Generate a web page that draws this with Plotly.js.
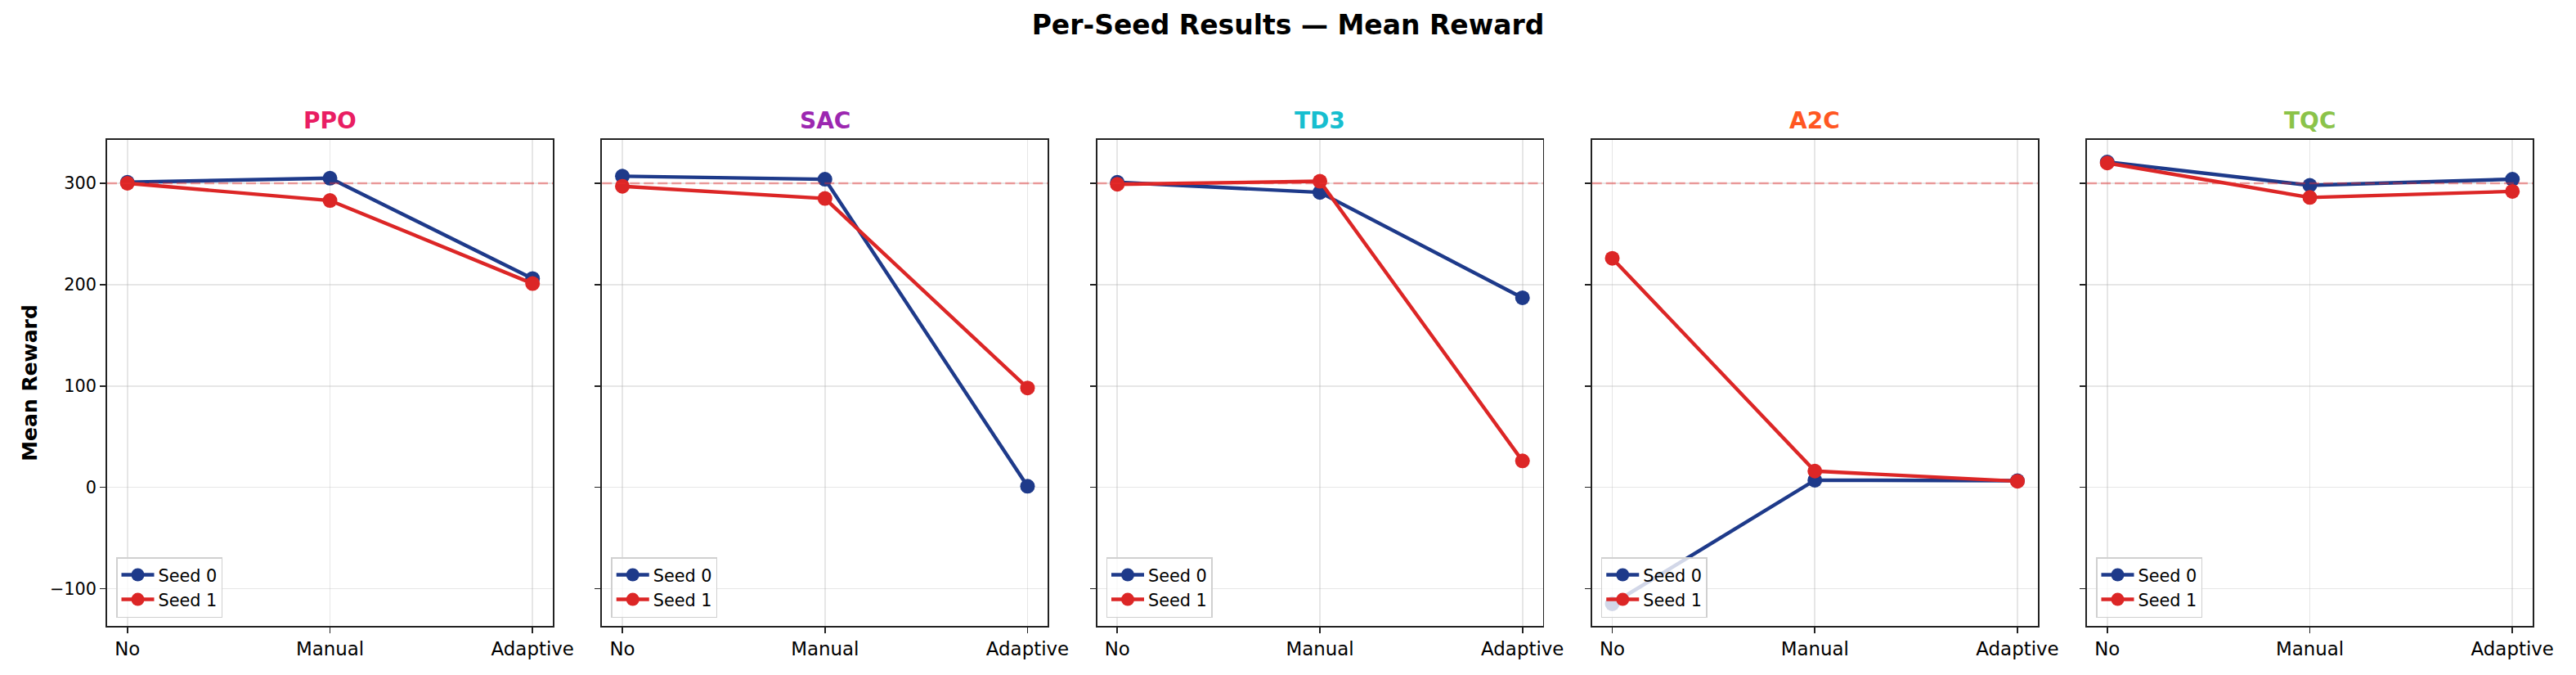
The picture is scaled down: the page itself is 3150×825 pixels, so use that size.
<!DOCTYPE html>
<html>
<head>
<meta charset="utf-8">
<script src="https://cdn.plot.ly/plotly-3.0.1.min.js"></script>
<style>
  html, body { margin: 0; padding: 0; background: #fff; }
  #chart { width: 3150px; height: 825px; }
</style>
</head>
<body>
<div id="chart"></div>
<script>
// Per-seed mean reward.
const categories = ['No', 'Manual', 'Adaptive'];
const algos = ['PPO', 'SAC', 'TD3', 'A2C', 'TQC'];
const algoColors = ['#E91E63', '#9C27B0', '#17BECF', '#FF5722', '#8BC34A'];
const seedNames = ['Seed 0', 'Seed 1'];
const seedColors = ['#1E3A8A', '#DC2626'];

const ppoSeed0 = [301, 305, 206];
const ppoSeed1 = [300, 283, 201];
const sacSeed0 = [307, 304, 1];
const sacSeed1 = [297, 285, 98];
const td3Seed0 = [301, 291, 187];
const td3Seed1 = [299, 302, 26];
const a2cSeed0 = [-115, 7, 6.5];
const a2cSeed1 = [226, 16, 6];
const tqcSeed0 = [321, 298, 304];
const tqcSeed1 = [320, 286, 292];

const TARGET_REWARD = 300;

const seedValues = [
  [ppoSeed0, ppoSeed1],
  [sacSeed0, sacSeed1],
  [td3Seed0, td3Seed1],
  [a2cSeed0, a2cSeed1],
  [tqcSeed0, tqcSeed1]
];

// figure geometry (px, 3150x825 canvas)
const W = 3150, H = 825;
const FONT = 'DejaVu Sans, Liberation Sans, sans-serif';
const PLOT_LEFT = 131, PLOT_W = 545, PLOT_STRIDE = 605.25;
const PLOT_TOP = 171, PLOT_BOTTOM = 765;

// shared y range, matplotlib-style 5% padding
const allVals = seedValues.flat(2);
const yMin = Math.min(...allVals), yMax = Math.max(...allVals);
const pad = (yMax - yMin) * 0.05;
const yRange = [yMin - pad, yMax + pad];

const traces = [];
const layout = {
  width: W, height: H,
  paper_bgcolor: '#fff', plot_bgcolor: '#fff',
  font: { family: FONT, color: '#000', size: 21 },
  margin: { l: 0, r: 0, t: 0, b: 0 },
  showlegend: true,
  title: {
    text: 'Per-Seed Results — Mean Reward',
    font: { family: FONT, size: 33, weight: 'bold', color: '#000' },
    x: 0.5, xanchor: 'center', y: 1 - 30 / H, yanchor: 'middle'
  },
  annotations: [],
  shapes: []
};

algos.forEach((algo, i) => {
  const n = i === 0 ? '' : String(i + 1);
  const x0 = (PLOT_LEFT + i * PLOT_STRIDE) / W;
  const x1 = (PLOT_LEFT + i * PLOT_STRIDE + PLOT_W) / W;
  const legendId = 'legend' + n;

  seedValues[i].forEach((vals, s) => {
    traces.push({
      type: 'scatter', mode: 'lines+markers',
      x: categories, y: vals,
      xaxis: 'x' + n, yaxis: 'y' + n,
      name: seedNames[s],
      legend: legendId,
      line: { color: seedColors[s], width: 4.4 },
      marker: { color: seedColors[s], size: 18 },
      hoverinfo: 'skip'
    });
  });

  layout['xaxis' + n] = {
    domain: [x0, x1], anchor: 'y' + n,
    type: 'category', range: [-0.1, 2.1],
    showline: true, mirror: true, linecolor: '#222', linewidth: 1.8,
    ticks: 'outside', ticklen: 7, tickwidth: 1.7, tickcolor: '#222',
    showgrid: true, gridcolor: 'rgba(176,176,176,0.32)', gridwidth: 1.7,
    zeroline: false,
    tickfont: { family: FONT, size: 22.9, color: '#000' }
  };
  layout['yaxis' + n] = {
    domain: [1 - PLOT_BOTTOM / H, 1 - PLOT_TOP / H], anchor: 'x' + n,
    range: yRange, tick0: 0, dtick: 100,
    showticklabels: i === 0,
    showline: true, mirror: true, linecolor: '#222', linewidth: 1.8,
    ticks: 'outside', ticklen: 7, tickwidth: 1.7, tickcolor: '#222',
    showgrid: true, gridcolor: 'rgba(176,176,176,0.32)', gridwidth: 1.7,
    zeroline: false,
    tickfont: { family: FONT, size: 20.8, color: '#000' }
  };
  if (i === 0) {
    layout.yaxis.title = {
      text: 'Mean Reward', standoff: 8,
      font: { family: FONT, size: 25, weight: 'bold', color: '#000' }
    };
  }

  layout[legendId] = {
    x: x0 + 11 / W, xanchor: 'left',
    y: 1 - (PLOT_BOTTOM - 10) / H, yanchor: 'bottom',
    bgcolor: 'rgba(255,255,255,0.8)', bordercolor: '#d0d0d0', borderwidth: 1.5,
    font: { family: FONT, size: 20.8, color: '#000' },
    tracegroupgap: 0, itemwidth: 40
  };

  layout.annotations.push({
    text: algo, showarrow: false,
    xref: 'paper', yref: 'paper',
    x: (x0 + x1) / 2, xanchor: 'center',
    y: 1 - 147 / H, yanchor: 'middle',
    font: { family: FONT, size: 28, weight: 'bold', color: algoColors[i] }
  });

  layout.shapes.push({
    type: 'line', layer: 'above',
    xref: 'x' + n + ' domain', x0: 0, x1: 1,
    yref: 'y' + n, y0: TARGET_REWARD, y1: TARGET_REWARD,
    line: { color: 'rgba(235,45,45,0.42)', width: 2.5, dash: '12px,5px' }
  });
});

Plotly.newPlot('chart', traces, layout, { displayModeBar: false, staticPlot: true });
</script>
</body>
</html>
